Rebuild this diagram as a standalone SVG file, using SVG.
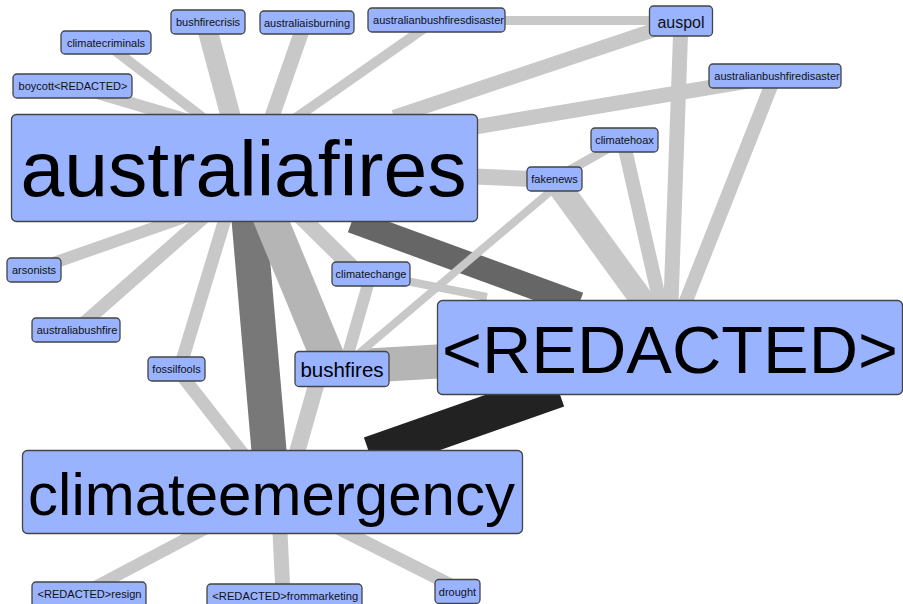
<svg xmlns="http://www.w3.org/2000/svg" width="903" height="604" viewBox="0 0 903 604">
<style>
.e{fill:none;stroke-linecap:butt}
.l{stroke:#c8c8c8}
.m{stroke:#b5b5b5}
.n rect{fill:#99b3ff;stroke:#444;stroke-width:1.3}
.n text{font-family:"Liberation Sans",Arial,sans-serif;fill:#111;text-anchor:middle;font-size:11px}
.n text.b{fill:#000}
</style>
<rect width="903" height="604" fill="#fff"/>
<g id="edges" class="e">
<line x1="370" y1="455" x2="558" y2="389" stroke="#222" stroke-width="37"/>
<line x1="352" y1="221" x2="579" y2="304" stroke="#666" stroke-width="24"/>
<line x1="244.5" y1="167.5" x2="272.5" y2="491" stroke="#787878" stroke-width="35"/>
<line class="m" x1="249" y1="167" x2="332" y2="368" stroke-width="34"/>
<line class="m" x1="368" y1="365.5" x2="560" y2="354.5" stroke-width="34"/>
<line class="l" x1="104" y1="42" x2="215" y2="127" stroke-width="10"/>
<line class="l" x1="72" y1="85.6" x2="250" y2="138.3" stroke-width="12"/>
<line class="l" x1="205.3" y1="21.5" x2="237" y2="140" stroke-width="20"/>
<line class="l" x1="305" y1="22" x2="267" y2="131" stroke-width="15"/>
<line class="l" x1="436" y1="20" x2="290" y2="122" stroke-width="10"/>
<line class="l" x1="436" y1="20.5" x2="681" y2="20.5" stroke-width="9"/>
<line class="l" x1="681" y1="21" x2="394" y2="117" stroke-width="14"/>
<line class="l" x1="774" y1="76.7" x2="300" y2="156.4" stroke-width="15"/>
<line class="l" x1="681" y1="21" x2="670" y2="330" stroke-width="15"/>
<line class="l" x1="775" y1="76" x2="680" y2="316" stroke-width="14"/>
<line class="l" x1="623" y1="140" x2="661" y2="307" stroke-width="14"/>
<line class="l" x1="554" y1="179" x2="650" y2="311" stroke-width="24"/>
<line class="l" x1="623" y1="140" x2="554" y2="179" stroke-width="9"/>
<line class="l" x1="440" y1="175" x2="555" y2="180" stroke-width="16"/>
<line class="l" x1="565" y1="179" x2="350" y2="361" stroke-width="8"/>
<line class="l" x1="371" y1="274" x2="487" y2="297" stroke-width="8"/>
<line class="l" x1="371" y1="274" x2="344" y2="368" stroke-width="12"/>
<line class="l" x1="290" y1="206" x2="365" y2="280" stroke-width="16"/>
<line class="l" x1="179.7" y1="368.5" x2="230" y2="202.5" stroke-width="13"/>
<line class="l" x1="176" y1="368" x2="272" y2="491" stroke-width="13"/>
<line class="l" x1="321" y1="368" x2="286" y2="491" stroke-width="16"/>
<line class="l" x1="33.5" y1="270" x2="200" y2="211.7" stroke-width="12"/>
<line class="l" x1="76" y1="330" x2="210" y2="212" stroke-width="13"/>
<line class="l" x1="276.5" y1="491" x2="83.7" y2="593" stroke-width="12"/>
<line class="l" x1="278" y1="491" x2="283" y2="594" stroke-width="15"/>
<line class="l" x1="264" y1="491" x2="457" y2="588" stroke-width="13"/>
</g>
<g id="n-bushfirecrisis" class="n"><rect x="171" y="10" width="74" height="24" rx="4"/><text x="208" y="26">bushfirecrisis</text></g>
<g id="n-australiaisburning" class="n"><rect x="260" y="11" width="94" height="23" rx="4"/><text x="307" y="26.5">australiaisburning</text></g>
<g id="n-australianbushfiresdisaster" class="n"><rect x="368" y="8" width="137" height="24" rx="4"/><text x="438.5" y="24">australianbushfiresdisaster</text></g>
<g id="n-auspol" class="n"><rect x="649.5" y="6" width="63" height="30" rx="4"/><text x="681" y="28" style="font-size:16px">auspol</text></g>
<g id="n-climatecriminals" class="n"><rect x="61" y="31" width="90" height="23" rx="4"/><text x="106" y="46.5">climatecriminals</text></g>
<g id="n-boycott" class="n"><rect x="13" y="74" width="119" height="24" rx="4"/><text x="73" y="90" textLength="109" lengthAdjust="spacingAndGlyphs">boycott&lt;REDACTED&gt;</text></g>
<g id="n-australianbushfiredisaster" class="n"><rect x="709" y="64" width="132" height="24" rx="4"/><text x="777" y="80">australianbushfiredisaster</text></g>
<g id="n-australiafires" class="n"><rect x="11.5" y="114.5" width="466" height="107" rx="5"/><text class="b" x="243.5" y="196" style="font-size:77px" textLength="446" lengthAdjust="spacingAndGlyphs">australiafires</text></g>
<g id="n-climatehoax" class="n"><rect x="591" y="128" width="67" height="24" rx="4"/><text x="624.5" y="144">climatehoax</text></g>
<g id="n-fakenews" class="n"><rect x="527" y="167" width="55" height="24" rx="4"/><text x="554.5" y="183">fakenews</text></g>
<g id="n-arsonists" class="n"><rect x="7" y="258" width="54" height="24" rx="4"/><text x="34" y="274">arsonists</text></g>
<g id="n-climatechange" class="n"><rect x="332" y="262" width="78" height="24" rx="4"/><text x="371" y="278">climatechange</text></g>
<g id="n-australiabushfire" class="n"><rect x="32" y="318" width="88" height="24" rx="4"/><text x="77" y="334">australiabushfire</text></g>
<g id="n-fossilfools" class="n"><rect x="148" y="357" width="57" height="24" rx="4"/><text x="176.5" y="373">fossilfools</text></g>
<g id="n-bushfires" class="n"><rect x="295" y="351.5" width="94" height="35" rx="4"/><text class="b" x="342" y="377" style="font-size:20.5px">bushfires</text></g>
<g id="n-redacted" class="n"><rect x="437.5" y="300.5" width="465" height="94" rx="5"/><text class="b" x="670" y="373" style="font-size:67px" textLength="456" lengthAdjust="spacingAndGlyphs">&lt;REDACTED&gt;</text></g>
<g id="n-climateemergency" class="n"><rect x="22.5" y="450.5" width="500" height="83" rx="5"/><text class="b" x="271.5" y="515" style="font-size:60px">climateemergency</text></g>
<g id="n-resign" class="n"><rect x="32" y="582" width="114" height="25" rx="4"/><text x="89.5" y="598" textLength="104" lengthAdjust="spacingAndGlyphs">&lt;REDACTED&gt;resign</text></g>
<g id="n-frommarketing" class="n"><rect x="207" y="584" width="155" height="25" rx="4"/><text x="285.3" y="600" textLength="146" lengthAdjust="spacingAndGlyphs">&lt;REDACTED&gt;frommarketing</text></g>
<g id="n-drought" class="n"><rect x="435" y="579.5" width="45" height="24" rx="4"/><text x="457.5" y="595.5">drought</text></g>
</svg>
